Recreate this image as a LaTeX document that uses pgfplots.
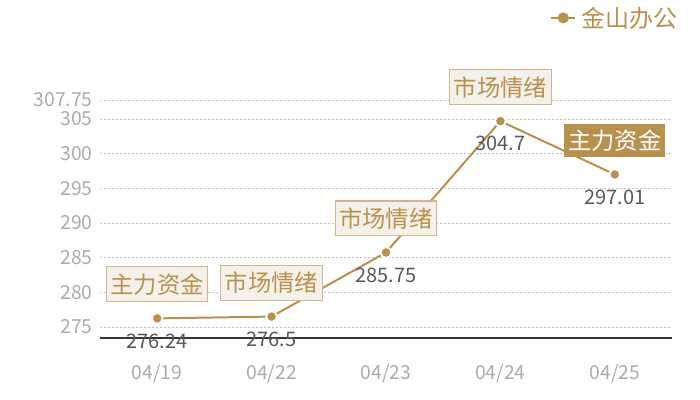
\documentclass[border=0pt]{standalone}
\usepackage{fontspec}
\setmainfont{Noto Sans CJK SC}
\usepackage{pgfplots}
\pgfplotsset{compat=1.18}
\definecolor{gold}{HTML}{B8914F}
\definecolor{boxfill}{HTML}{F4F0EA}
\definecolor{boxline}{HTML}{D2B68A}
\definecolor{ticktext}{HTML}{ABABAB}
\definecolor{valtext}{HTML}{595959}

\begin{document}
\begin{tikzpicture}
\useasboundingbox (0,0) rectangle (525pt,300pt);
\begin{axis}[
  at={(75pt,46.5pt)}, anchor=south west,
  scale only axis, width=429pt, height=178.5pt,
  xmin=-0.5, xmax=4.5, ymin=273.41, ymax=307.75,
  xtick={0,1,2,3,4}, xticklabels={04/19,04/22,04/23,04/24,04/25},
  ytick={275,280,285,290,295,300,305,307.75},
  /pgf/number format/assume math mode=true,
  yticklabel style={/pgf/number format/precision=2, xshift=-2pt},
  tick label style={font=\fontsize{14.5}{16}\selectfont, text=ticktext},
  xticklabel style={yshift=-16pt},
  major tick length=0pt,
  axis x line*=bottom, axis y line*=left,
  x axis line style={draw=black!80, line width=0.8pt, -},
  y axis line style={draw=none},
  ymajorgrids, grid style={draw=black!25, dash pattern=on 1.5pt off 1.5pt, line width=0.6pt},
  clip=false,
  legend style={at={(1.022,1.345)}, anchor=east, draw=none, fill=none,
    font=\fontsize{18}{20}\selectfont, text=gold},
  legend image code/.code={
    \draw[gold, line width=1.5pt] (0pt,0pt) -- (18pt,0pt);
    \fill[gold] (9pt,0pt) circle (3.4pt);
  },
]
\addplot[color=gold, line width=1.5pt, mark=*, mark size=4pt,
  mark options={fill=gold, draw=white, line width=1.3pt}]
  coordinates {(0,276.24) (1,276.5) (2,285.75) (3,304.7) (4,297.01)};
\addlegendentry{\hspace{2pt}金山办公}
% value labels
\addplot[draw=none, mark=none, forget plot, nodes near coords, point meta=explicit symbolic,
  every node near coord/.style={anchor=center, yshift=-17pt, text=valtext,
    font=\fontsize{15}{17}\selectfont}]
  coordinates {(0,276.24) [276.24] (1,276.5) [276.5] (2,285.75) [285.75]
               (3,304.7) [304.7] (4,297.01) [297.01]};
% outlined tags
\addplot[draw=none, mark=none, forget plot, nodes near coords, point meta=explicit symbolic,
  every node near coord/.style={anchor=center, yshift=25.5pt, text=gold,
    fill=boxfill, draw=boxline, line width=0.8pt, inner xsep=3pt, inner ysep=5pt,
    font=\fontsize{17.5}{19}\selectfont}]
  coordinates {(0,276.24) [主力资金] (1,276.5) [市场情绪] (2,285.75) [市场情绪]
               (3,304.7) [市场情绪]};
% filled tag
\addplot[draw=none, mark=none, forget plot, nodes near coords, point meta=explicit symbolic,
  every node near coord/.style={anchor=center, yshift=25.5pt, text=white,
    fill=gold, inner xsep=3pt, inner ysep=4pt,
    font=\fontsize{17.5}{19}\selectfont}]
  coordinates {(4,297.01) [主力资金]};
\end{axis}
\end{tikzpicture}
\end{document}
